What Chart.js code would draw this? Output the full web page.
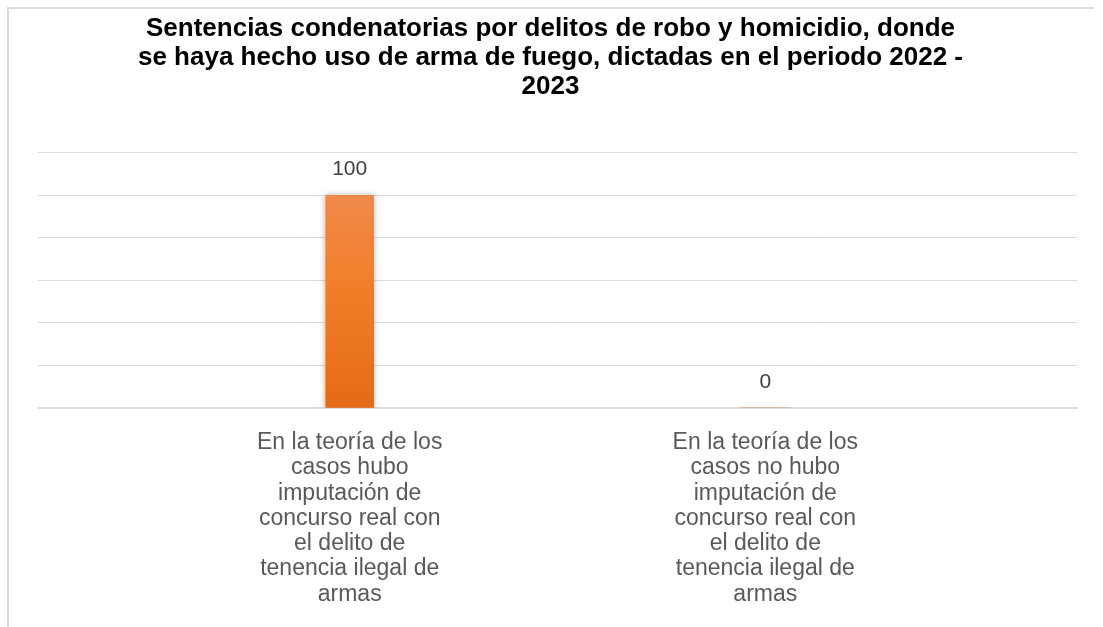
<!DOCTYPE html>
<html>
<head>
<meta charset="utf-8">
<script src="https://cdn.jsdelivr.net/npm/chart.js@4/dist/chart.umd.min.js"></script>
<style>
  html, body { margin: 0; padding: 0; background: #ffffff; }
  #wrap { width: 1103px; height: 627px; }
</style>
</head>
<body>
<div id="wrap"><canvas id="c" width="1103" height="627"></canvas></div>
<script>
const titleLines = [
  'Sentencias condenatorias por delitos de robo y homicidio, donde',
  'se haya hecho uso de arma de fuego, dictadas en el periodo 2022 -',
  '2023'
];
const categories = [
  ['En la teoría de los', 'casos hubo', 'imputación de', 'concurso real con', 'el delito de', 'tenencia ilegal de', 'armas'],
  ['En la teoría de los', 'casos no hubo', 'imputación de', 'concurso real con', 'el delito de', 'tenencia ilegal de', 'armas']
];
const values = [100, 0];
const yTicks = [0, 20, 40, 60, 80, 100, 120];

const FONT = '"Liberation Sans", Arial, sans-serif';

const framePlugin = {
  id: 'frame',
  beforeDraw(chart) {
    const ctx = chart.ctx;
    ctx.save();
    ctx.strokeStyle = '#d9d9d9';
    ctx.lineWidth = 2;
    ctx.beginPath();
    ctx.moveTo(8, 627);
    ctx.lineTo(8, 8);
    ctx.lineTo(1094, 8);
    ctx.stroke();
    ctx.restore();
  }
};

const shadowPlugin = {
  id: 'barShadow',
  beforeDatasetDraw(chart) {
    const ctx = chart.ctx;
    ctx.save();
    ctx.shadowColor = 'rgba(0,0,0,0.28)';
    ctx.shadowBlur = 6;
    ctx.shadowOffsetX = 0;
    ctx.shadowOffsetY = 0;
  },
  afterDatasetDraw(chart) {
    chart.ctx.restore();
  }
};

const labelPlugin = {
  id: 'valueLabels',
  afterDatasetsDraw(chart) {
    const ctx = chart.ctx;
    const meta = chart.getDatasetMeta(0);
    ctx.save();
    ctx.font = '21px ' + FONT;
    ctx.fillStyle = '#404040';
    ctx.textAlign = 'center';
    ctx.textBaseline = 'middle';
    meta.data.forEach((bar, i) => {
      ctx.fillText(String(values[i]), bar.x, bar.y - 26);
    });
    ctx.restore();
  }
};

function barGradient(context) {
  const chart = context.chart;
  const area = chart.chartArea;
  if (!area) return '#F07E2C';
  const el = context.element;
  const top = el && isFinite(el.y) ? el.y : area.top;
  const bottom = el && isFinite(el.base) ? el.base : area.bottom;
  if (bottom - top < 1) return '#F07E2C';
  const g = chart.ctx.createLinearGradient(0, top, 0, bottom);
  g.addColorStop(0, '#EF8F5A');
  g.addColorStop(0.5, '#F27F2B');
  g.addColorStop(1, '#E56B16');
  return g;
}

new Chart(document.getElementById('c'), {
  type: 'bar',
  data: {
    datasets: [{
      data: values.map((v, i) => ({ x: i, y: v })),
      backgroundColor: barGradient,
      borderWidth: 0,
      barThickness: 48
    }]
  },
  options: {
    responsive: false,
    animation: false,
    events: [],
    layout: { padding: { left: 24, right: 26, top: 0, bottom: 0 } },
    plugins: {
      legend: { display: false },
      tooltip: { enabled: false },
      title: {
        display: true,
        text: titleLines,
        color: '#000000',
        font: { family: FONT, size: 26, weight: 'bold', lineHeight: 1.1 },
        padding: { top: 15, bottom: 52 }
      }
    },
    scales: {
      x: {
        type: 'linear',
        offset: false,
        min: -0.75,
        max: 1.75,
        bounds: 'ticks',
        afterBuildTicks(scale) {
          scale.ticks = categories.map((c, i) => ({ value: i }));
        },
        grid: { display: false, drawTicks: false, offset: false },
        border: { display: true, color: '#d9d9d9', width: 2 },
        ticks: {
          autoSkip: false,
          maxRotation: 0,
          padding: 22,
          color: '#595959',
          font: { family: FONT, size: 23, lineHeight: 1.1 },
          callback(value) { return categories[value]; }
        },
        afterFit(scale) { scale.height = 627 - 408; }
      },
      y: {
        min: 0,
        max: 120,
        afterBuildTicks(scale) {
          scale.ticks = yTicks.map(v => ({ value: v }));
        },
        grid: { color: '#d9d9d9', lineWidth: 1, drawTicks: false },
        border: { display: false },
        ticks: { display: false },
        afterFit(scale) { scale.width = 14; }
      }
    }
  },
  plugins: [framePlugin, shadowPlugin, labelPlugin]
});
</script>
</body>
</html>
